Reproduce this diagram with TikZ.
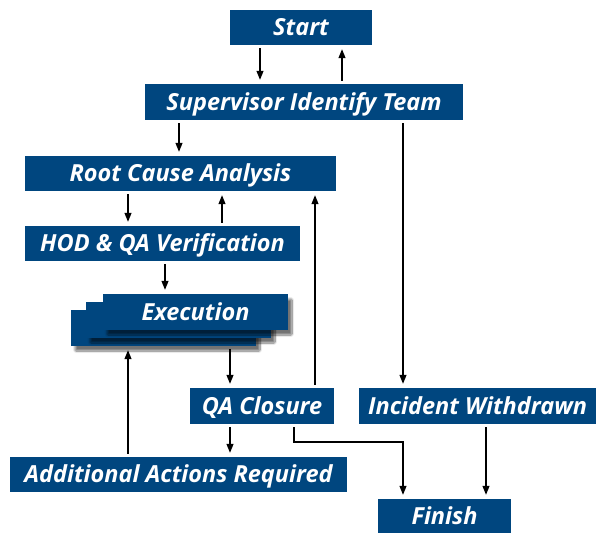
\documentclass[tikz,border=0pt]{standalone}
\usepackage{fontspec}
\setmainfont{Open Sans}
\usetikzlibrary{arrows.meta,shadows.blur}
\definecolor{boxblue}{RGB}{0,70,127}
\begin{document}
\begin{tikzpicture}[x=1pt,y=-1pt,
  box/.style={fill=boxblue,text=white,inner sep=0pt,minimum height=35pt,
    text height=16.5pt,text depth=0pt,
    font=\fontsize{23.5}{26}\selectfont\bfseries\itshape},
  shbox/.style={box,blur shadow={shadow xshift=4pt,shadow yshift=-5pt,shadow blur steps=10,shadow blur extra rounding=1pt,shadow opacity=55}},
  arr/.style={line width=1.2pt,-{Triangle[length=9pt,width=7pt]},shorten <=3pt,shorten >=4pt}]
\useasboundingbox (0,0) rectangle (597,533);
\node[box,minimum width=142pt] (start) at (301,27.5) {Start};
\node[box,minimum width=318pt,minimum height=36pt] (sup) at (304,102) {Supervisor Identify Team};
\node[box,minimum width=311pt] (rca) at (180.5,173.5) {Root Cause Analysis};
\node[box,minimum width=275pt] (hod) at (162.5,243.5) {HOD \& QA Verification};
\node[shbox,minimum width=185pt,minimum height=36pt] (exec3) at (163.5,328) {};
\node[shbox,minimum width=185pt,minimum height=36pt] (exec2) at (178.5,320) {};
\node[shbox,minimum width=185pt,minimum height=36pt] (exec) at (195.5,312) {Execution};
\node[box,minimum width=144pt,minimum height=36pt] (qac) at (262,406) {QA Closure};
\node[box,minimum width=237pt,minimum height=36pt] (inc) at (477.5,406) {Incident Withdrawn};
\node[box,minimum width=337pt] (add) at (178.5,474.5) {Additional Actions Required};
\node[box,minimum width=133pt,minimum height=34pt] (fin) at (444.5,516) {Finish};
\coordinate (xa) at (260,0);
\coordinate (xb) at (342,0);
\coordinate (xc) at (179,0);
\coordinate (xd) at (403,0);
\coordinate (xe) at (128,0);
\coordinate (xf) at (222,0);
\coordinate (xg) at (165,0);
\coordinate (xh) at (230,0);
\coordinate (xi) at (315,0);
\coordinate (xj) at (294,0);
\coordinate (xk) at (486,0);
\coordinate (yk) at (0,442);
\draw[arr] (start.south -| xa) -- (sup.north -| xa);
\draw[arr] (sup.north -| xb) -- (start.south -| xb);
\draw[arr] (sup.south -| xc) -- (rca.north -| xc);
\draw[arr] (sup.south -| xd) -- (inc.north -| xd);
\draw[arr] (rca.south -| xe) -- (hod.north -| xe);
\draw[arr] (hod.north -| xf) -- (rca.south -| xf);
\draw[arr] (hod.south -| xg) -- (exec.north -| xg);
\draw[arr] (exec3.south -| xh) -- (qac.north -| xh);
\draw[arr] (add.north -| xe) -- (exec3.south -| xe);
\draw[arr] (qac.north -| xi) -- (rca.south -| xi);
\draw[arr] (qac.south -| xh) -- (add.north -| xh);
\draw[arr] (qac.south -| xj) -- (yk -| xj) -- (yk -| xd) -- (fin.north -| xd);
\draw[arr] (inc.south -| xk) -- (fin.north -| xk);
\end{tikzpicture}
\end{document}
